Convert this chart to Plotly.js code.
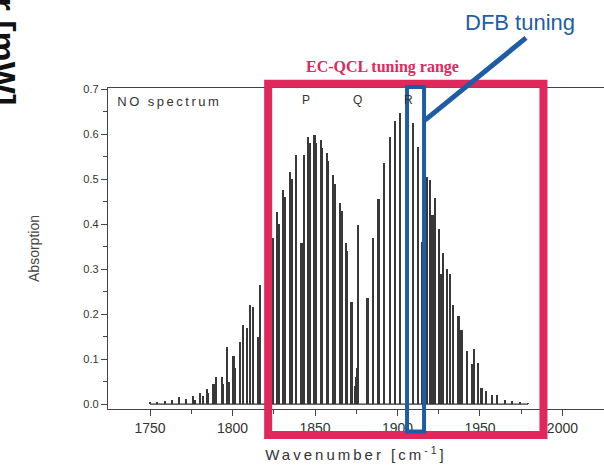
<!DOCTYPE html>
<html>
<head>
<meta charset="utf-8">
<script src="https://cdn.plot.ly/plotly-3.0.1.min.js"></script>
<style>
html,body{margin:0;padding:0;background:#fff;}
#chart{width:604px;height:466px;}
.g-xtitle text{letter-spacing:3px;}
</style>
</head>
<body>
<div id="chart"></div>
<script>
// Line positions (cm^-1) and absorption heights
const wavenumber = [1750.0,1754.1,1759.1,1763.2,1767.6,1771.8,1775.9,1777.3,1780.3,1781.9,
  1784.4,1785.3,1788.4,1790.0,1793.5,1794.4,1796.5,1798.0,1800.5,1801.5,
  1804.5,1806.5,1808.6,1810.6,1812.6,1815.3,1816.7,1820.3,1821.2,1824.7,
  1826.8,1827.8,1830.8,1831.8,1834.8,1835.9,1838.5,1841.9,1843.3,1845.9,
  1847.0,1849.6,1850.6,1853.5,1854.4,1857.1,1858.0,1861.1,1862.0,1865.2,
  1866.0,1868.6,1869.4,1872.2,1874.3,1874.9,1875.4,1876.2,1881.9,1885.3,
  1888.4,1891.8,1895.5,1898.5,1901.5,1905.6,1909.6,1912.6,1914.7,1918.1,
  1919.7,1921.3,1922.7,1925.2,1926.2,1927.8,1930.2,1931.8,1933.5,1936.9,
  1938.9,1942.0,1945.0,1946.4,1949.0,1951.0,1953.6,1957.1,1960.5,1965.2,
  1969.4,1974.2,1979.1];
const absorption = [0.004,0.005,0.006,0.010,0.015,0.012,0.017,0.010,0.025,0.018,
  0.033,0.025,0.045,0.061,0.061,0.045,0.128,0.050,0.106,0.080,
  0.139,0.176,0.170,0.220,0.217,0.150,0.265,0.300,0.280,0.370,
  0.428,0.400,0.476,0.460,0.517,0.500,0.554,0.358,0.554,0.595,
  0.580,0.598,0.580,0.587,0.570,0.558,0.540,0.510,0.490,0.447,
  0.430,0.358,0.340,0.228,0.040,0.060,0.080,0.398,0.236,0.370,
  0.456,0.537,0.595,0.630,0.648,0.658,0.625,0.572,0.360,0.506,
  0.498,0.420,0.458,0.390,0.290,0.337,0.300,0.290,0.220,0.195,
  0.165,0.117,0.090,0.123,0.092,0.036,0.030,0.020,0.020,0.010,
  0.006,0.004,0.003];

const xTicks = [1750, 1800, 1850, 1900, 1950, 2000];
const yTicks = [0.0, 0.1, 0.2, 0.3, 0.4, 0.5, 0.6, 0.7];
const branchLabels = ['P', 'Q', 'R'];
const branchCenters = [1844.5, 1875.5, 1906.4];
const ecqclRange = [1821.6, 1988.5];
const dfbRange = [1905.8, 1916.1];

const traces = [
  {
    type: 'scatter', mode: 'lines',
    x: [wavenumber[0], wavenumber[wavenumber.length - 1]], y: [0, 0],
    line: {color: '#333', width: 1.2}, hoverinfo: 'skip', showlegend: false
  },
  {
    type: 'bar', x: wavenumber, y: absorption, width: 1.4,
    marker: {color: '#383838', line: {width: 0}},
    showlegend: false
  }
];

const annotations = [
  {text: 'NO spectrum', xref: 'x', yref: 'y', x: 1737.5, y: 0.672, xanchor: 'left', yanchor: 'middle',
   showarrow: false, font: {family: 'Liberation Sans, Arial', size: 13, color: '#333'}},
  {text: '<b>EC-QCL tuning range</b>', xref: 'x', yref: 'paper', x: 1891.2, y: 1.065, xanchor: 'center', yanchor: 'middle',
   showarrow: false, font: {family: 'Liberation Serif, Times New Roman', size: 16, color: '#e0285c'}},
  {text: 'DFB tuning', xref: 'x', yref: 'paper', x: 1974.2, y: 1.205, xanchor: 'center', yanchor: 'middle',
   showarrow: false, font: {family: 'Liberation Sans, Arial', size: 22, color: '#1f5ca6'}},
  {text: '<b>Power [mW]</b>', xref: 'paper', yref: 'paper', x: -0.209, y: 1.252, xanchor: 'center', yanchor: 'middle',
   textangle: 90, showarrow: false, font: {family: 'Liberation Sans, Arial', size: 34, color: '#111'}}
];
branchLabels.forEach((t, i) => annotations.push({
  text: t, xref: 'x', yref: 'y', x: branchCenters[i], y: 0.676, showarrow: false,
  font: {family: 'Liberation Sans, Arial', size: 12, color: '#333'}
}));

const shapes = [
  {type: 'rect', xref: 'x', yref: 'paper', x0: ecqclRange[0], x1: ecqclRange[1], y0: -0.081, y1: 1.013,
   line: {color: '#e0285c', width: 8}, layer: 'above'},
  {type: 'rect', xref: 'x', yref: 'paper', x0: dfbRange[0], x1: dfbRange[1], y0: -0.070, y1: 1.003,
   line: {color: '#1f5ca6', width: 4}, layer: 'above'},
  {type: 'line', xref: 'x', yref: 'paper', x0: dfbRange[1] + 0.6, y0: 0.900, x1: 1977.9, y1: 1.156,
   line: {color: '#1f5ca6', width: 5}, layer: 'above'}
];

const layout = {
  width: 604, height: 466,
  margin: {l: 108, r: 0, t: 88, b: 57},
  paper_bgcolor: '#fff', plot_bgcolor: '#fff',
  bargap: 0,
  xaxis: {
    range: [1724.5, 2025.2], tickvals: xTicks, ticktext: xTicks.map(String),
    showgrid: false, zeroline: false, showline: true, mirror: true, linecolor: '#444', linewidth: 1.2,
    ticks: 'outside', ticklen: 6, tickcolor: '#444',
    minor: {tickvals: [1775, 1825, 1875, 1925, 1975], ticks: 'outside', ticklen: 4, tickcolor: '#444'},
    tickfont: {family: 'Liberation Sans, Arial', size: 14, color: '#333'},
    title: {text: 'Wavenumber [cm<sup>-1</sup>]', standoff: 14,
            font: {family: 'Liberation Sans, Arial', size: 15, color: '#333'}}
  },
  yaxis: {
    range: [-0.011, 0.703], tickvals: yTicks, ticktext: yTicks.map(v => v.toFixed(1)),
    showgrid: false, zeroline: false, showline: true, linecolor: '#444', linewidth: 1.2,
    ticks: 'outside', ticklen: 6, tickcolor: '#444',
    minor: {dtick: 0.05, ticks: 'outside', ticklen: 4, tickcolor: '#444'},
    tickfont: {family: 'Liberation Sans, Arial', size: 11, color: '#333'},
    title: {text: 'Absorption', standoff: 40,
            font: {family: 'Liberation Sans, Arial', size: 14, color: '#444'}}
  },
  annotations: annotations,
  shapes: shapes
};

Plotly.newPlot('chart', traces, layout, {displayModeBar: false, staticPlot: true}).then(() => {
  document.querySelectorAll('.annotation-text').forEach(el => {
    if (el.textContent === 'NO spectrum') el.style.letterSpacing = '2.5px';
  });
});
</script>
</body>
</html>
